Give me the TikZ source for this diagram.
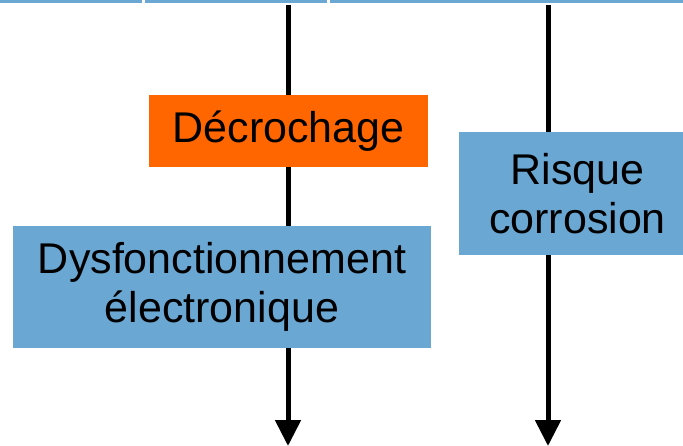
\documentclass[tikz,border=0pt]{standalone}
\usepackage{fontspec}
\setmainfont{Liberation Sans}
\usetikzlibrary{arrows.meta}
\definecolor{boxblue}{HTML}{6AA7D3}
\definecolor{boxorange}{HTML}{FF6600}
\tikzset{
  stepbox/.style={fill=boxblue, inner sep=0pt, align=center,
    font=\fontsize{43}{48.5}\selectfont},
  flow/.style={line width=5pt, -{Triangle[width=25pt,length=26pt]}}
}
\begin{document}
\begin{tikzpicture}[x=1pt,y=-1pt]
      \useasboundingbox (0,0) rectangle (683,446);
      \fill[boxblue] (0,0) rectangle (142,3);
      \fill[boxblue] (145,0) rectangle (327,3);
      \fill[boxblue] (330,0) rectangle (683,3);
      \draw
        (288,5) coordinate (top1)
        (288,446) coordinate (bot1)
        (548,5) coordinate (top2)
        (548,446) coordinate (bot2);
      \begin{scope}[flow]
        \draw (top1) to (bot1);
        \draw (top2) to (bot2);
      \end{scope}
      \node[stepbox, fill=boxorange, minimum width=279pt, minimum height=72pt]
        (decro) at (288.5,131) {Décrochage};
      \node[stepbox, minimum width=224pt, minimum height=123pt]
        (corro) at (571,193.5) {\hspace*{13pt}Risque\\\hspace*{13pt}corrosion};
      \node[stepbox, minimum width=418pt, minimum height=122pt]
        (dysf) at (222,287) {Dysfonctionnement\\électronique};
    \end{tikzpicture}
\end{document}
